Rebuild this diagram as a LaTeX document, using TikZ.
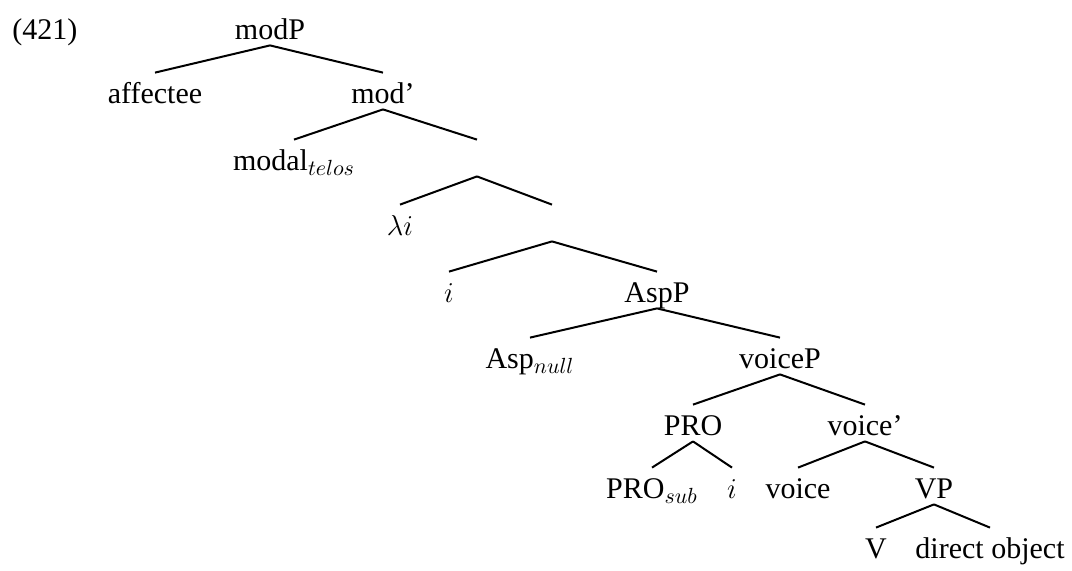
\documentclass[tikz,border=0pt]{standalone}
\usepackage{fontspec}
\setmainfont{Liberation Serif}
\tikzset{word/.style={anchor=base, inner sep=0pt, text height=15pt, text depth=3pt}}

\begin{document}
\begin{tikzpicture}[x=0.5pt, y=-0.5pt, font=\fontsize{15}{18}\selectfont]
  \useasboundingbox (0,0) rectangle (1072,570);
  % example number
  \node[anchor=base west, inner sep=0pt] (ex) at (12,39) {(421)};
  % words, row by row
  \node[word] (modP) at (270,39) {modP};
  \node[word] (affectee) at (155,103) {affectee};
  \node[word] (modbar) at (383,103) {mod'};
  \node[word] (modal) at (294,170) {modal$_{telos}$};
  \node[word] (e1) at (477,170) {};
  \node[word] (lambda) at (400,235) {$\lambda i$};
  \node[word] (e2) at (552,235) {};
  \node[word] (i1) at (449,302) {$i$};
  \node[word] (AspP) at (657,302) {AspP};
  \node[word] (Aspnull) at (530,368) {Asp$_{null}$};
  \node[word] (voiceP) at (780,368) {voiceP};
  \node[word] (PRO) at (693,435) {PRO};
  \node[word] (voicebar) at (865,435) {voice'};
  \node[word] (PROsub) at (652,498) {PRO$_{sub}$};
  \node[word] (i2) at (732,498) {$i$};
  \node[word] (voice) at (798,498) {voice};
  \node[word] (VP) at (934,498) {VP};
  \node[word] (V) at (876,558) {V};
  \node[word] (dobj) at (990,558) {direct object};
  % branches
  \draw[line width=1pt] (modP.south) -- (affectee.north);
  \draw[line width=1pt] (modP.south) -- (modbar.north);
  \draw[line width=1pt] (modbar.south) -- (modal.north);
  \draw[line width=1pt] (modbar.south) -- (e1.north);
  \draw[line width=1pt] (e1.south) -- (lambda.north);
  \draw[line width=1pt] (e1.south) -- (e2.north);
  \draw[line width=1pt] (e2.south) -- (i1.north);
  \draw[line width=1pt] (e2.south) -- (AspP.north);
  \draw[line width=1pt] (AspP.south) -- (Aspnull.north);
  \draw[line width=1pt] (AspP.south) -- (voiceP.north);
  \draw[line width=1pt] (voiceP.south) -- (PRO.north);
  \draw[line width=1pt] (voiceP.south) -- (voicebar.north);
  \draw[line width=1pt] (PRO.south) -- (PROsub.north);
  \draw[line width=1pt] (PRO.south) -- (i2.north);
  \draw[line width=1pt] (voicebar.south) -- (voice.north);
  \draw[line width=1pt] (voicebar.south) -- (VP.north);
  \draw[line width=1pt] (VP.south) -- (V.north);
  \draw[line width=1pt] (VP.south) -- (dobj.north);
\end{tikzpicture}
\end{document}
